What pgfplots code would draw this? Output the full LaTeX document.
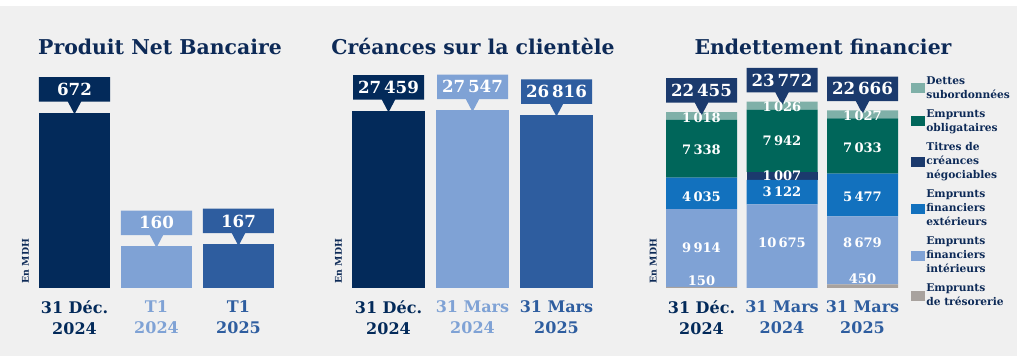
\documentclass[border=0pt]{standalone}
\usepackage{pgfplots}
\pgfplotsset{compat=1.18}
\usepackage{fontspec}
\setmainfont{DejaVu Serif}
\usetikzlibrary{shapes.callouts}
\definecolor{navy}{HTML}{032A5A}
\definecolor{lblue}{HTML}{7FA2D5}
\definecolor{mblue}{HTML}{2E5D9F}
\definecolor{titlec}{HTML}{0D2A57}
\definecolor{bgc}{HTML}{F0F0F0}
\definecolor{ctres}{HTML}{A8A29E}
\definecolor{cint}{HTML}{7FA2D5}
\definecolor{cext}{HTML}{1271BE}
\definecolor{ctit}{HTML}{1B3A6D}
\definecolor{cobl}{HTML}{00665A}
\definecolor{cdet}{HTML}{7FB0A8}

\pgfplotsset{
  panel/.style={
    scale only axis, anchor=south west, clip=false,
    height=171pt, ymin=0,
    xmin=-0.5, xmax=2.5,
    axis line style={draw=none}, major tick length=0pt,
    ytick=\empty, xtick={0,1,2},
    xticklabel style={align=center, font=\bfseries\fontsize{12}{16}\selectfont, anchor=north, yshift=-6pt},
    ybar, bar shift=0pt,
  },
  callout/.style 2 args={
    nodes near coords, point meta=explicit symbolic,
    every node near coord/.style={rectangle callout, fill=#1, text=white,
      font=\bfseries\fontsize{12.5}{15}\selectfont, minimum width=53.25pt,
      minimum height=18.4pt, inner sep=0pt,
      callout relative pointer={(0pt,-9.5pt)}, callout pointer width=10pt,
      anchor=south, yshift=#2},
  },
}

\begin{document}
\begin{tikzpicture}
\useasboundingbox (0,0) rectangle (768pt,267pt);
\fill[bgc] (0,0) rectangle (762.75pt,262.5pt);

\node[anchor=base, font=\bfseries\fontsize{15.3}{18}\selectfont, text=titlec] at (120pt,225.75pt) {Produit Net Bancaire};
\node[anchor=base, font=\bfseries\fontsize{15.3}{18}\selectfont, text=titlec] at (354.75pt,225.75pt) {Créances sur la clientèle};
\node[anchor=base, font=\bfseries\fontsize{15.3}{18}\selectfont, text=titlec] at (617.25pt,225.75pt) {Endettement financier};

% Panel 1
\begin{axis}[panel, at={(25.125pt,51pt)}, width=184.5pt, ymax=875, bar width=0.866,
  xticklabels={{\textcolor{navy}{31 Déc.}\\\textcolor{navy}{2024}},
               {\textcolor{lblue}{T1}\\\textcolor{lblue}{2024}},
               {\textcolor{mblue}{T1}\\\textcolor{mblue}{2025}}}]
\addplot[fill=navy, draw=none, callout={navy}{8.25pt}] coordinates {(0,672) [672]};
\addplot[fill=lblue, draw=none, callout={lblue}{8.25pt}] coordinates {(1,160) [160]};
\addplot[fill=mblue, draw=none, callout={mblue}{8.25pt}] coordinates {(2,167) [167]};
\node[rotate=90, anchor=south west, font=\bfseries\fontsize{7}{8}\selectfont, text=titlec] at (rel axis cs:0,0) {En MDH};
\end{axis}

% Panel 2
\begin{axis}[panel, at={(259.875pt,51pt)}, width=189pt, ymax=35363, bar width=0.869,
  xticklabels={{\textcolor{navy}{31 Déc.}\\\textcolor{navy}{2024}},
               {\textcolor{lblue}{31 Mars}\\\textcolor{lblue}{2024}},
               {\textcolor{mblue}{31 Mars}\\\textcolor{mblue}{2025}}}]
\addplot[fill=navy, draw=none, callout={navy}{8.25pt}] coordinates {(0,27459) [27\,459]};
\addplot[fill=lblue, draw=none, callout={lblue}{8.25pt}] coordinates {(1,27547) [27\,547]};
\addplot[fill=mblue, draw=none, callout={mblue}{8.25pt}] coordinates {(2,26816) [26\,816]};
\node[rotate=90, anchor=south west, font=\bfseries\fontsize{7}{8}\selectfont, text=titlec] at (rel axis cs:0,0) {En MDH};
\end{axis}

% Panel 3
\begin{axis}[panel, ybar stacked, at={(495.94pt,51pt)}, width=181.125pt, ymax=29093, bar width=0.882,
  xticklabels={{\textcolor{navy}{31 Déc.}\\\textcolor{navy}{2024}},
               {\textcolor{mblue}{31 Mars}\\\textcolor{mblue}{2024}},
               {\textcolor{mblue}{31 Mars}\\\textcolor{mblue}{2025}}},
  legend image code/.code={\fill[#1] (0pt,-3.75pt) rectangle (10.5pt,3.75pt);},
  reverse legend,
  legend style={at={(1,1)}, anchor=north west, xshift=3pt, yshift=-9pt, draw=none, fill=none,
    font=\bfseries\fontsize{8}{10.5}\selectfont, text=titlec, row sep=5pt,
    nodes={align=left, inner sep=1pt, font=\bfseries\fontsize{8}{10.5}\selectfont}},
  legend cell align=left]
\addplot[fill=ctres, draw=none] coordinates {(0,150) (1,0) (2,450)};
\addlegendentry{Emprunts\\de trésorerie}
\addplot[fill=cint, draw=none] coordinates {(0,9914) (1,10675) (2,8679)};
\addlegendentry{Emprunts\\financiers\\intérieurs}
\addplot[fill=cext, draw=none] coordinates {(0,4035) (1,3122) (2,5477)};
\addlegendentry{Emprunts\\financiers\\extérieurs}
\addplot[fill=ctit, draw=none] coordinates {(0,0) (1,1007) (2,0)};
\addlegendentry{Titres de\\créances\\négociables}
\addplot[fill=cobl, draw=none] coordinates {(0,7338) (1,7942) (2,7033)};
\addlegendentry{Emprunts\\obligataires}
\addplot[fill=cdet, draw=none] coordinates {(0,1018) (1,1026) (2,1027)};
\addlegendentry{Dettes\\subordonnées}
\node[rotate=90, anchor=south west, font=\bfseries\fontsize{7}{8}\selectfont, text=titlec] at (rel axis cs:0,0) {En MDH};
\end{axis}

% Panel 3 overlay: totals and segment labels
\begin{axis}[scale only axis, anchor=south west, at={(495.94pt,51pt)}, width=181.125pt, height=171pt,
  xmin=-0.5, xmax=2.5, ymin=0, ymax=29093, hide axis, clip=false]
\addplot[ybar, bar shift=0pt, bar width=0.882, draw=none, fill=none, callout={ctit}{6.75pt}]
  coordinates {(0,22455) [22\,455] (1,23772) [23\,772] (2,22666) [22\,666]};
\addplot[only marks, mark=text, text mark={},
  nodes near coords, point meta=explicit symbolic,
  every node near coord/.style={anchor=center, text=white, inner sep=0pt,
    font=\bfseries\fontsize{9.8}{11}\selectfont}]
  coordinates {
  (0,21692) [1\,018] (0,17609) [7\,338] (0,11612) [4\,035] (0,5104) [9\,914] (0,893) [150]
  (1,23096) [1\,026] (1,18757) [7\,942] (1,14291) [1\,007] (1,12250) [3\,122] (1,5742) [10\,675]
  (2,21947) [1\,027] (2,17864) [7\,033] (2,11612) [5\,477] (2,5742) [8\,679] (2,1148) [450]
  };
\end{axis}
\end{tikzpicture}
\end{document}
